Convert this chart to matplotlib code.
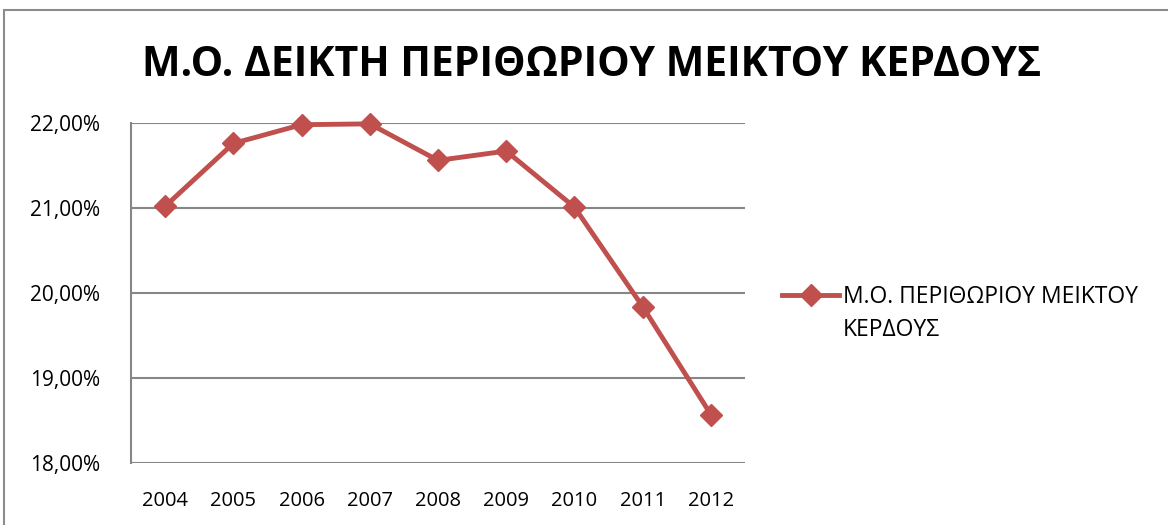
import matplotlib
matplotlib.use("Agg")
import matplotlib.pyplot as plt
from matplotlib.ticker import FuncFormatter, FixedLocator
from matplotlib.patches import Rectangle
from matplotlib.lines import Line2D

years = ["2004", "2005", "2006", "2007", "2008", "2009", "2010", "2011", "2012"]
values = [21.02, 21.76, 21.98, 21.99, 21.56, 21.67, 21.01, 19.84, 18.57]
y_ticks = [18, 19, 20, 21, 22]
title = "Μ.Ο. ΔΕΙΚΤΗ ΠΕΡΙΘΩΡΙΟΥ ΜΕΙΚΤΟΥ ΚΕΡΔΟΥΣ"
series_name_lines = ["Μ.Ο. ΠΕΡΙΘΩΡΙΟΥ ΜΕΙΚΤΟΥ", "ΚΕΡΔΟΥΣ"]

plt.rcParams['font.family'] = ['Open Sans', 'DejaVu Sans']
W, H = 1168, 525
fig = plt.figure(figsize=(W/100, H/100), dpi=100)
fig.patch.set_facecolor("white")

# chart-area border (partially cropped)
fig.patches.append(Rectangle((4/W, -0.1), 1.2, 1 - 10/H + 0.1, transform=fig.transFigure,
                             fill=False, edgecolor="#8c8c8c", linewidth=1.5))

ax = fig.add_axes([131/W, 1 - 463/H, (745-131)/W, (463-123)/H])
x = list(range(len(years)))
color = "#C0504D"
ax.plot(x, values, color=color, linewidth=3.5, marker="D", markersize=11,
        markeredgecolor=color, markerfacecolor=color, zorder=3, clip_on=False)
ax.set_xlim(-0.5, len(years) - 0.5)
ax.set_ylim(18, 22)
ax.yaxis.set_major_locator(FixedLocator(y_ticks))
ax.yaxis.set_major_formatter(FuncFormatter(lambda v, p: f"{v:.2f}".replace(".", ",") + "%"))
ax.set_xticks(x)
ax.set_xticklabels(years)
ax.grid(axis="y", color="#868686", linewidth=1.5)
ax.set_axisbelow(True)
for s in ["top", "right", "bottom"]:
    ax.spines[s].set_visible(False)
ax.spines["left"].set_color("#868686")
ax.spines["left"].set_linewidth(1.5)
ax.tick_params(axis="y", length=0, labelsize=15, pad=22, colors="black")
ax.tick_params(axis="x", length=0, labelsize=14.5, pad=20, colors="black")

fig.text(592/W, 1 - 65/H, title, ha="center", va="center", fontsize=29.5, fontweight="bold")

# legend (handle aligned with the first line, second line as continuation text)
leg_fs = 16.5
handle = Line2D([0], [0], color=color, linewidth=3.5, marker="D", markersize=11)
leg = fig.legend([handle], [series_name_lines[0]], loc="center left",
                 bbox_to_anchor=(782/W, 1 - 297/H), frameon=False, fontsize=leg_fs,
                 handlelength=2.5, handletextpad=0.15, borderaxespad=0, borderpad=0)
fig.text(843/W, 1 - 330/H, series_name_lines[1], ha="left", va="center", fontsize=leg_fs)

fig.savefig("out.png", dpi=100, facecolor="white")
